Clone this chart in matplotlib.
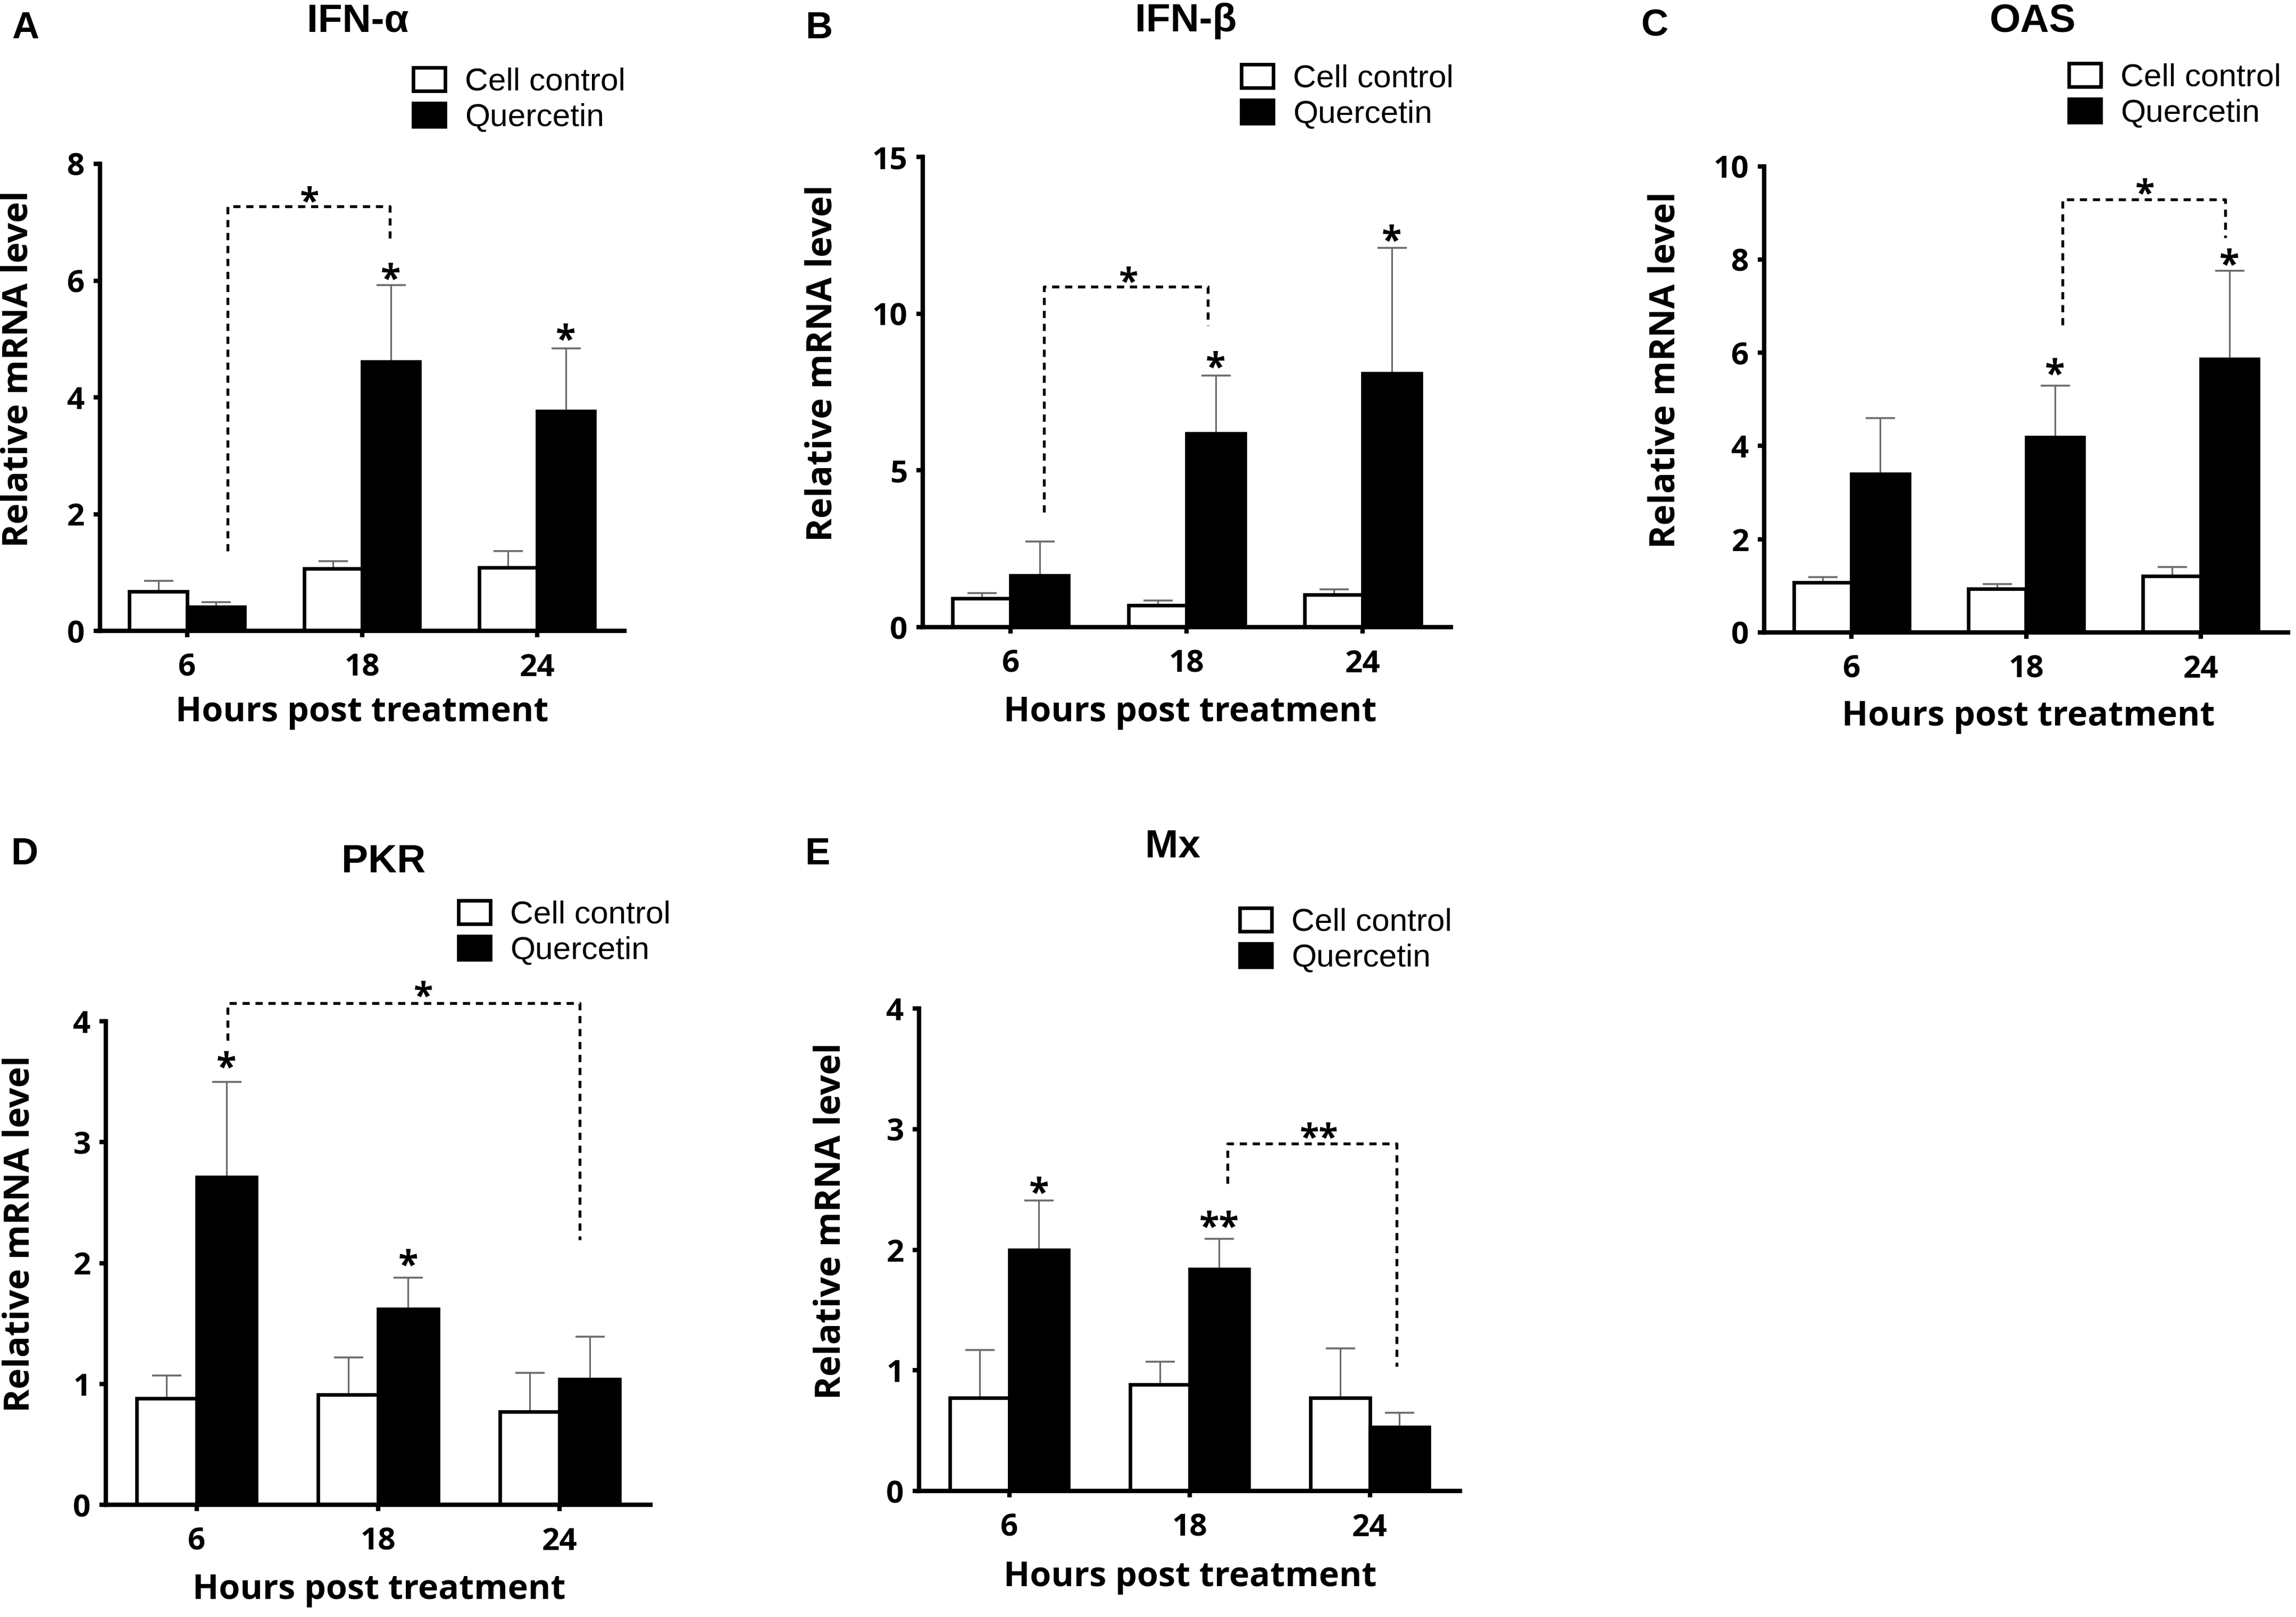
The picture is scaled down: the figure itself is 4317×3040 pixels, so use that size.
import matplotlib
matplotlib.use("Agg")
import matplotlib.pyplot as plt
import numpy as np

W, H = 4317, 3040
DPI = 300

groups = ["6", "18", "24"]
series = ["Cell control", "Quercetin"]

titles = ["IFN-α", "IFN-β", "OAS", "PKR", "Mx"]
letters = ["A", "B", "C", "D", "E"]

ctrl_A = [0.67, 1.07, 1.08]; ctrl_err_A = [0.19, 0.12, 0.29]
quer_A = [0.41, 4.61, 3.76]; quer_err_A = [0.08, 1.31, 1.08]
ctrl_B = [0.91, 0.70, 1.03]; ctrl_err_B = [0.18, 0.15, 0.17]
quer_B = [1.64, 6.17, 8.09]; quer_err_B = [1.09, 1.85, 4.00]
ctrl_C = [1.07, 0.94, 1.21]; ctrl_err_C = [0.12, 0.10, 0.19]
quer_C = [3.40, 4.19, 5.86]; quer_err_C = [1.20, 1.10, 1.90]
ctrl_D = [0.88, 0.91, 0.77]; ctrl_err_D = [0.19, 0.31, 0.32]
quer_D = [2.71, 1.62, 1.04]; quer_err_D = [0.79, 0.26, 0.35]
ctrl_E = [0.77, 0.88, 0.77]; ctrl_err_E = [0.40, 0.19, 0.41]
quer_E = [2.00, 1.84, 0.53]; quer_err_E = [0.41, 0.25, 0.12]

yticks_A = [0, 2, 4, 6, 8]
yticks_B = [0, 5, 10, 15]
yticks_C = [0, 2, 4, 6, 8, 10]
yticks_D = [0, 1, 2, 3, 4]
yticks_E = [0, 1, 2, 3, 4]

# significance marks above quercetin bars: (group index, label, y)
stars_A = [(1, "*", 6.17), (2, "*", 5.13)]
stars_B = [(1, "*", 8.56), (2, "*", 12.6)]
stars_C = [(1, "*", 5.72), (2, "*", 8.07)]
stars_D = [(0, "*", 3.69), (1, "*", 2.05)]
stars_E = [(0, "*", 2.54), (1, "**", 2.26)]

# brackets: x_left, y_left, x_right, y_right, y_top, label, label_x, label_y
bracket_A = (0.23, 1.37, 1.16, 6.66, 7.27, "*", 0.70, 7.5)
bracket_B = (0.19, 3.67, 1.12, 9.62, 10.86, "*", 0.67, 11.3)
bracket_C = (1.21, 6.59, 2.14, 8.47, 9.29, "*", 1.68, 9.6)
bracket_D = (0.17, 3.84, 2.11, 2.19, 4.15, "*", 1.25, 4.28)
bracket_E = (1.21, 2.55, 2.15, 1.03, 2.88, "**", 1.72, 3.0)

panels = [
    (ctrl_A, ctrl_err_A, quer_A, quer_err_A, yticks_A, stars_A, bracket_A),
    (ctrl_B, ctrl_err_B, quer_B, quer_err_B, yticks_B, stars_B, bracket_B),
    (ctrl_C, ctrl_err_C, quer_C, quer_err_C, yticks_C, stars_C, bracket_C),
    (ctrl_D, ctrl_err_D, quer_D, quer_err_D, yticks_D, stars_D, bracket_D),
    (ctrl_E, ctrl_err_E, quer_E, quer_err_E, yticks_E, stars_E, bracket_E),
]

# layout in pixel coords of the full figure (left, right, top, bottom)
axes_px = [
    (187.5, 1174, 308, 1186),
    (1734.6, 2728, 295, 1179),
    (3317, 4302, 312.5, 1189),
    (199, 1223, 1920, 2829),
    (1728, 2745, 1896, 2803),
]
legend_px = [(777, 188), (2334, 182), (3890, 180), (862, 1754), (2331, 1768)]
title_px = [(673, 40), (2230, 40), (3822, 40), (721, 1621), (2205, 1593)]
letter_px = [(48, 54), (1540, 54), (3111, 49), (46, 1607), (1537, 1607)]
ylabel_px = [(34, 694), (1546, 683), (3131, 696), (37, 2320), (1562, 2296)]
xlabel_px = [(681, 1339), (2238, 1339), (3814, 1348), (713, 2989), (2238, 2965)]

BOLD = "Open Sans"
ARIAL = "Liberation Sans"

fig = plt.figure(figsize=(W / DPI, H / DPI), dpi=DPI)

def fx(x):
    return x / W

def fy(y):
    return 1 - y / H

bw = 0.33
x = np.arange(len(groups))
ERR_C = "#6a6a6a"

for i, (ctrl, cerr, quer, qerr, yt, stars, br) in enumerate(panels):
    l, r, t, b = axes_px[i]
    ax = fig.add_axes([fx(l), fy(b), fx(r) - fx(l), fy(t) - fy(b)])
    bars_c = ax.bar(x - bw, ctrl, width=bw, align="edge", color="white",
                    edgecolor="black", linewidth=1.6, label=series[0], zorder=2)
    bars_q = ax.bar(x, quer, width=bw, align="edge", color="black",
                    edgecolor="black", linewidth=1.6, label=series[1], zorder=2)
    for xs, ys, es in ((x - bw / 2, ctrl, cerr), (x + bw / 2, quer, qerr)):
        eb = ax.errorbar(xs, ys, yerr=[np.zeros(3), es], fmt="none",
                         ecolor=ERR_C, elinewidth=0.75, capsize=6.6,
                         capthick=0.85, zorder=1.5)
        caps = eb[1]
        if len(caps) == 2:
            caps[0].set_visible(False)
    ax.set_xlim(-0.5, 2.5)
    ax.set_ylim(0, yt[-1])
    ax.set_yticks(yt)
    ax.set_xticks(x)
    ax.set_xticklabels(groups)
    for s in ["top", "right"]:
        ax.spines[s].set_visible(False)
    for s in ["left", "bottom"]:
        ax.spines[s].set_linewidth(2.0)
    ax.tick_params(axis="both", direction="out", length=2.8, width=2.0,
                   labelsize=14)
    ax.tick_params(axis="x", pad=7)
    ax.tick_params(axis="y", pad=4)
    for lab in ax.get_xticklabels() + ax.get_yticklabels():
        lab.set_fontfamily(BOLD)
        lab.set_fontweight("bold")

    for gi, lab, yy in stars:
        ax.annotate(lab, (gi + bw / 2, yy), xytext=(0, -9), textcoords="offset points",
                    ha="center", va="baseline", fontsize=16.5, fontweight="bold",
                    fontfamily=BOLD, annotation_clip=False)

    xl, yl, xr, yr, ytop, blab, lx, ly = br
    ax.plot([xl, xl, xr, xr], [yl, ytop, ytop, yr], color="black", lw=1.3,
            linestyle=(0, (2.5, 2)), clip_on=False, zorder=4)
    ax.annotate(blab, (lx, ly), xytext=(0, -9), textcoords="offset points",
                ha="center", va="baseline", fontsize=16, fontweight="bold",
                fontfamily=BOLD, annotation_clip=False)

    lxp, lyp = legend_px[i]
    ax.legend(handles=[bars_c, bars_q], loc="center left",
              bbox_to_anchor=(fx(lxp), fy(lyp)), bbox_transform=fig.transFigure,
              frameon=False, borderpad=0, borderaxespad=0, handlelength=1.0,
              handleheight=0.75, handletextpad=0.6, labelspacing=0.2,
              prop={"family": ARIAL, "size": 14.5})

    tx, ty = title_px[i]
    fig.text(fx(tx), fy(ty), titles[i], ha="center", va="center", fontsize=18,
             fontweight="bold", fontfamily=ARIAL)
    lx2, ly2 = letter_px[i]
    fig.text(fx(lx2), fy(ly2), letters[i], ha="center", va="center", fontsize=17,
             fontweight="bold", fontfamily=ARIAL)
    yx, yy2 = ylabel_px[i]
    fig.text(fx(yx), fy(yy2), "Relative mRNA level", ha="center", va="center",
             rotation=90, fontsize=16, fontweight="bold", fontfamily=BOLD)
    xx, xy = xlabel_px[i]
    fig.text(fx(xx), fy(xy), "Hours post treatment", ha="center", va="center",
             fontsize=15.5, fontweight="bold", fontfamily=BOLD)

fig.savefig("out.png", dpi=DPI, facecolor="white")
